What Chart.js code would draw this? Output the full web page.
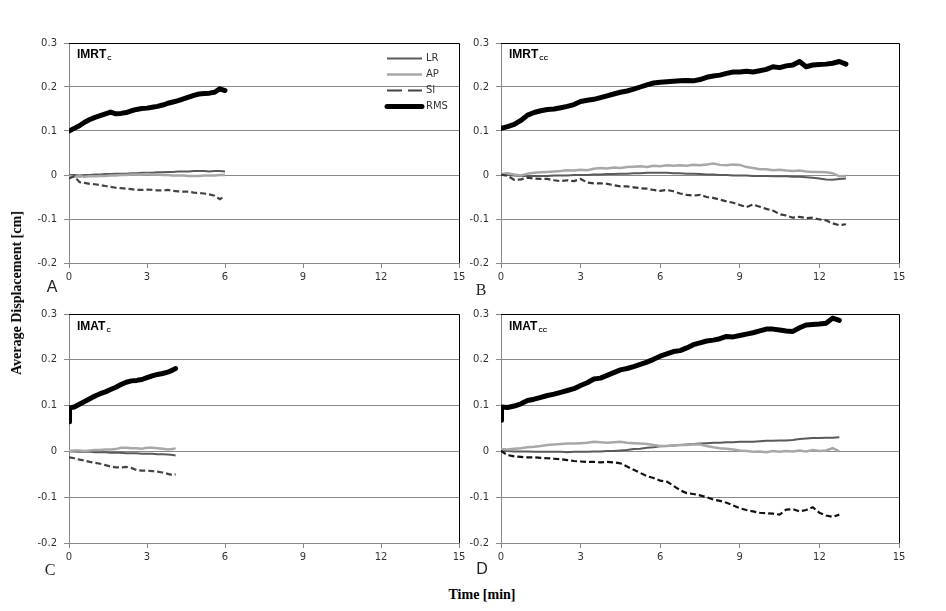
<!DOCTYPE html>
<html>
<head>
<meta charset="utf-8">
<title>Average displacement</title>
<script src="https://cdn.jsdelivr.net/npm/chart.js@4.4.0/dist/chart.umd.min.js"></script>
<style>
  body { margin: 0; background: #fff; }
  #wrap { position: relative; width: 946px; height: 611px; overflow: hidden; }
  #wrap canvas { position: absolute; }
  .ptitle { position: absolute; font: bold 12px "Liberation Sans", Arial, sans-serif; line-height: 12px; color: #000; white-space: nowrap; }
  .ptitle sub { font-size: 6px; vertical-align: baseline; position: relative; top: 2px; margin-left: 1px; }
  .plab { position: absolute; transform: translate(-50%, -50%); font-size: 16px; line-height: 16px; color: #222; }
  .sans { font-family: "Liberation Sans", Arial, sans-serif; }
  .serif { font-family: "Liberation Serif", "Times New Roman", serif; }
  .axtitle { position: absolute; font: bold 14px "Liberation Serif", "Times New Roman", serif; color: #000; white-space: nowrap; }
</style>
</head>
<body>
<div id="wrap">
  <canvas id="cA" width="460" height="263" style="left:9px;top:30px"></canvas>
  <canvas id="cB" width="468" height="263" style="left:441px;top:30px"></canvas>
  <canvas id="cC" width="460" height="272" style="left:9px;top:301px"></canvas>
  <canvas id="cD" width="468" height="272" style="left:441px;top:301px"></canvas>

  <div class="ptitle" style="left:77px;top:48px">IMRT<sub>C</sub></div>
  <div class="ptitle" style="left:509px;top:48px">IMRT<sub>CC</sub></div>
  <div class="ptitle" style="left:77px;top:320px">IMAT<sub>C</sub></div>
  <div class="ptitle" style="left:509px;top:320px">IMAT<sub>CC</sub></div>

  <div class="plab sans" style="left:52px;top:287px">A</div>
  <div class="plab serif" style="left:481px;top:290px">B</div>
  <div class="plab serif" style="left:50px;top:570px">C</div>
  <div class="plab sans" style="left:482px;top:569px">D</div>

  <div class="axtitle" style="left:17px;top:293px;transform:translate(-50%,-50%) rotate(-90deg)">Average Displacement [cm]</div>
  <div class="axtitle" style="left:482px;top:595px;transform:translate(-50%,-50%)">Time [min]</div>
</div>

<script>
// ---------- A: IMRT C ----------
const timeA = [0,0.2,0.4,0.6,0.8,1,1.2,1.4,1.6,1.8,2,2.2,2.4,2.6,2.8,3,3.2,3.4,3.6,3.8,4,4.2,4.4,4.6,4.8,5,5.2,5.4,5.6,5.8,6];
const rmsA = [0.100,0.106,0.112,0.120,0.126,0.131,0.135,0.139,0.143,0.139,0.140,0.142,0.146,0.149,0.151,0.152,0.154,0.156,0.159,0.163,0.166,0.169,0.173,0.177,0.181,0.184,0.185,0.186,0.188,0.196,0.192];
const lrA = [0,0,-0.001,0,0,0.001,0.001,0.002,0.002,0.003,0.003,0.003,0.004,0.004,0.005,0.005,0.005,0.006,0.006,0.007,0.007,0.008,0.008,0.008,0.009,0.009,0.009,0.008,0.009,0.009,0.008];
const apA = [-0.002,-0.004,-0.003,-0.004,-0.003,-0.003,-0.002,-0.002,-0.001,-0.001,0,0,0.001,0.001,0.001,0.002,0.001,0.001,0,0,-0.001,-0.001,-0.001,-0.002,-0.002,-0.002,-0.001,-0.001,-0.001,0,0];
const siA = [-0.008,-0.003,-0.016,-0.018,-0.020,-0.021,-0.023,-0.025,-0.027,-0.029,-0.030,-0.031,-0.032,-0.034,-0.034,-0.033,-0.034,-0.035,-0.035,-0.034,-0.036,-0.037,-0.038,-0.038,-0.040,-0.041,-0.042,-0.044,-0.047,-0.055,-0.048];

// ---------- B: IMRT CC ----------
const timeB = [0,0.25,0.5,0.75,1,1.25,1.5,1.75,2,2.25,2.5,2.75,3,3.25,3.5,3.75,4,4.25,4.5,4.75,5,5.25,5.5,5.75,6,6.25,6.5,6.75,7,7.25,7.5,7.75,8,8.25,8.5,8.75,9,9.25,9.5,9.75,10,10.25,10.5,10.75,11,11.25,11.5,11.75,12,12.25,12.5,12.75,13];
const rmsB = [0.106,0.110,0.115,0.124,0.136,0.142,0.146,0.149,0.150,0.153,
  0.156,0.160,0.167,0.170,0.172,0.176,0.180,0.184,0.188,0.191,
  0.195,0.200,0.205,0.209,0.211,0.212,0.213,0.214,0.215,0.214,
  0.217,0.222,0.225,0.227,0.231,0.234,0.234,0.236,0.234,0.237,
  0.240,0.246,0.244,0.248,0.250,0.258,0.246,0.250,0.251,0.252,
  0.254,0.258,0.252];
const lrB = [0,0,-0.001,-0.002,-0.002,-0.002,-0.002,-0.002,-0.001,-0.001,
  -0.001,0,0,0,0.001,0.001,0.002,0.002,0.003,0.003,
  0.004,0.004,0.005,0.005,0.005,0.005,0.004,0.004,0.003,0.003,
  0.002,0.001,0.001,0,0,-0.001,-0.001,-0.001,-0.002,-0.002,
  -0.002,-0.003,-0.003,-0.003,-0.004,-0.004,-0.005,-0.006,-0.008,-0.010,
  -0.011,-0.009,-0.008];
const apB = [0.002,0.004,0.001,-0.001,0.003,0.005,0.006,0.007,0.008,0.009,
  0.011,0.010,0.012,0.011,0.014,0.016,0.015,0.017,0.016,0.018,
  0.019,0.020,0.018,0.021,0.020,0.022,0.021,0.022,0.021,0.023,
  0.022,0.024,0.026,0.023,0.022,0.024,0.023,0.018,0.016,0.013,
  0.013,0.011,0.012,0.010,0.009,0.010,0.008,0.007,0.007,0.006,
  0.004,-0.003,-0.002];
const siB = [0.001,-0.002,-0.011,-0.010,-0.006,-0.008,-0.009,-0.009,-0.012,-0.014,
  -0.012,-0.014,-0.009,-0.017,-0.019,-0.019,-0.020,-0.023,-0.026,-0.026,
  -0.028,-0.030,-0.031,-0.034,-0.036,-0.034,-0.037,-0.042,-0.045,-0.047,
  -0.045,-0.050,-0.052,-0.056,-0.060,-0.063,-0.068,-0.073,-0.067,-0.072,
  -0.077,-0.081,-0.089,-0.092,-0.097,-0.095,-0.098,-0.097,-0.101,-0.103,
  -0.110,-0.114,-0.112];

// ---------- C: IMAT C ----------
const timeC = [0,0.02,0.2,0.4,0.6,0.8,1,1.2,1.4,1.6,1.8,2,2.2,2.4,2.6,2.8,3,3.2,3.4,3.6,3.8,4,4.1];
const rmsC = [0.065,0.095,0.097,0.103,0.109,0.115,0.121,0.126,0.130,0.135,0.140,0.146,0.151,0.154,0.155,0.157,0.161,0.165,0.168,0.170,0.173,0.178,0.181];
const lrC = [0,0,0,-0.001,-0.001,-0.001,-0.002,-0.002,-0.002,-0.003,-0.003,-0.003,-0.004,-0.004,-0.004,-0.005,-0.005,-0.005,-0.006,-0.006,-0.007,-0.008,-0.009];
const apC = [0.001,0.001,0.002,0.002,0.001,0.002,0.003,0.003,0.004,0.004,0.005,0.008,0.008,0.007,0.007,0.006,0.008,0.008,0.007,0.006,0.004,0.005,0.007];
const siC = [-0.013,-0.013,-0.015,-0.018,-0.020,-0.023,-0.025,-0.027,-0.030,-0.033,-0.035,-0.035,-0.034,-0.036,-0.041,-0.042,-0.042,-0.043,-0.044,-0.046,-0.049,-0.052,-0.050];

// ---------- D: IMAT CC ----------
const timeD = [0,0.02,0.25,0.5,0.75,1,1.25,1.5,1.75,2,2.25,2.5,2.75,3,3.25,3.5,3.75,4,4.25,4.5,4.75,5,5.25,5.5,5.75,6,6.25,6.5,6.75,7,7.25,7.5,7.75,8,8.25,8.5,8.75,9,9.25,9.5,9.75,10,10.25,10.5,10.75,11,11.25,11.5,11.75,12,12.25,12.5,12.75];
const rmsD = [0.068,0.097,0.096,0.099,0.104,0.111,0.114,0.118,0.122,0.125,
  0.129,0.133,0.137,0.144,0.150,0.158,0.160,0.166,0.172,0.178,
  0.181,0.185,0.190,0.195,0.201,0.208,0.213,0.218,0.220,0.226,
  0.233,0.237,0.241,0.243,0.246,0.251,0.250,0.253,0.256,0.259,
  0.263,0.267,0.267,0.265,0.263,0.262,0.270,0.276,0.277,0.278,
  0.280,0.291,0.286];
const lrD = [0.001,0.001,0.001,0,0,0,-0.001,-0.001,-0.001,-0.001,
  -0.001,-0.002,-0.001,-0.001,-0.001,0,0,0.001,0.001,0.002,
  0.003,0.005,0.006,0.008,0.009,0.011,0.012,0.013,0.014,0.015,
  0.016,0.017,0.018,0.019,0.019,0.020,0.020,0.021,0.021,0.021,
  0.022,0.023,0.023,0.024,0.024,0.025,0.027,0.028,0.029,0.029,
  0.030,0.030,0.031];
const apD = [0.005,0.005,0.004,0.006,0.007,0.009,0.010,0.012,0.014,0.015,
  0.016,0.017,0.017,0.018,0.019,0.021,0.020,0.019,0.020,0.021,
  0.019,0.018,0.017,0.016,0.014,0.012,0.012,0.013,0.014,0.014,
  0.015,0.015,0.012,0.009,0.007,0.006,0.004,0.002,0.001,-0.001,
  0.000,-0.002,0.001,-0.001,0.001,0.000,0.002,0.000,0.003,0.001,
  0.002,0.007,0.000];
const siD = [-0.002,0.000,-0.008,-0.011,-0.012,-0.013,-0.013,-0.014,-0.015,-0.016,
  -0.017,-0.019,-0.021,-0.022,-0.023,-0.023,-0.024,-0.023,-0.024,-0.026,
  -0.033,-0.040,-0.047,-0.054,-0.058,-0.064,-0.066,-0.075,-0.085,-0.091,
  -0.093,-0.096,-0.100,-0.105,-0.108,-0.112,-0.118,-0.124,-0.128,-0.131,
  -0.134,-0.135,-0.136,-0.138,-0.127,-0.126,-0.131,-0.128,-0.122,-0.134,
  -0.140,-0.143,-0.138];

// axis settings
const xTicks = { min: 0, max: 15, step: 3 };
const yTicks = { min: -0.2, max: 0.3, step: 0.1 };

var tickFont = { family: 'DejaVu Sans', size: 10 };

// join time + values into {x, y} points
function pts(t, v) {
  return t.map(function (x, i) { return { x: x, y: v[i] }; });
}

// black border on top and right of the plot area
var framePlugin = {
  id: 'frame',
  beforeDatasetsDraw: function (chart) {
    var ctx = chart.ctx, a = chart.chartArea;
    ctx.save();
    ctx.strokeStyle = '#000';
    ctx.lineWidth = 1;
    ctx.beginPath();
    ctx.moveTo(a.left, Math.round(a.top) + 0.5);
    ctx.lineTo(Math.round(a.right) + 0.5, Math.round(a.top) + 0.5);
    ctx.lineTo(Math.round(a.right) + 0.5, a.bottom);
    ctx.stroke();
    ctx.restore();
  }
};

// small legend in the upper right corner (panel A only)
var cornerLegend = {
  id: 'cornerLegend',
  afterDatasetsDraw: function (chart) {
    var ctx = chart.ctx, a = chart.chartArea;
    var x0 = a.right - 72, x1 = a.right - 37;
    ctx.save();
    chart.data.datasets.forEach(function (ds, i) {
      var y = Math.round(a.top + 15 + i * 16) + 0.5;
      ctx.beginPath();
      ctx.strokeStyle = ds.borderColor;
      ctx.lineWidth = ds.borderWidth;
      ctx.lineCap = ds.borderWidth > 3 ? 'round' : 'butt';
      ctx.setLineDash(ds.borderDash ? [15, 6] : []);
      ctx.moveTo(x0, y);
      ctx.lineTo(x1, y);
      ctx.stroke();
      ctx.setLineDash([]);
      ctx.fillStyle = '#333';
      ctx.font = '10px "DejaVu Sans"';
      ctx.textBaseline = 'middle';
      ctx.fillText(ds.label, x1 + 4, y);
    });
    ctx.restore();
  }
};

function makePanel(id, time, lr, ap, si, rms, siColor, withLegend) {
  var plugins = [framePlugin];
  if (withLegend) plugins.push(cornerLegend);

  return new Chart(document.getElementById(id), {
    type: 'line',
    data: {
      datasets: [
        { label: 'LR', data: pts(time, lr), borderColor: '#5a5a5a', borderWidth: 2, order: 3 },
        { label: 'AP', data: pts(time, ap), borderColor: '#a8a8a8', borderWidth: 2.5, order: 2 },
        { label: 'SI', data: pts(time, si), borderColor: siColor, borderWidth: 2.2, borderDash: [6, 3], order: 1 },
        { label: 'RMS', data: pts(time, rms), borderColor: '#000', borderWidth: 5, borderJoinStyle: 'round', borderCapStyle: 'round', order: 0 }
      ]
    },
    options: {
      responsive: false,
      animation: false,
      events: [],
      layout: { padding: { top: 13, right: 10, left: 0, bottom: 0 } },
      elements: { point: { radius: 0 }, line: { tension: 0, fill: false } },
      plugins: { legend: { display: false }, tooltip: { enabled: false } },
      scales: {
        x: {
          type: 'linear',
          min: xTicks.min,
          max: xTicks.max,
          ticks: { stepSize: xTicks.step, padding: 3, color: '#333', font: tickFont, maxRotation: 0 },
          grid: { drawOnChartArea: false, drawTicks: true, tickLength: 5, color: '#888' },
          border: { color: '#888' },
          afterFit: function (s) { s.height = 30; }
        },
        y: {
          min: yTicks.min,
          max: yTicks.max,
          ticks: {
            stepSize: yTicks.step, padding: 7, color: '#333', font: tickFont,
            callback: function (v) { return String(Math.round(v * 10) / 10); }
          },
          grid: { color: '#888', tickLength: 5 },
          border: { color: '#888' },
          afterFit: function (s) { s.width = 60; }
        }
      }
    },
    plugins: plugins
  });
}

makePanel('cA', timeA, lrA, apA, siA, rmsA, '#444', true);
makePanel('cB', timeB, lrB, apB, siB, rmsB, '#3a3a3a', false);
makePanel('cC', timeC, lrC, apC, siC, rmsC, '#444', false);
makePanel('cD', timeD, lrD, apD, siD, rmsD, '#111', false);
</script>
</body>
</html>
